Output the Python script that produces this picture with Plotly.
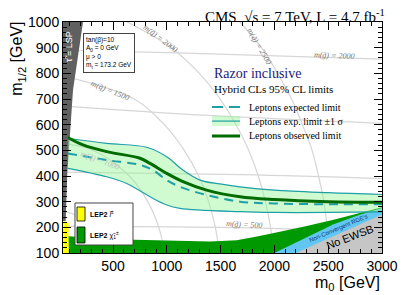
import plotly.graph_objects as go

# ---------------- data ----------------
# Observed / expected limits and +-1 sigma band (m0, m1/2) in GeV
obs_m0 = [80, 221, 441, 751, 844, 999, 1150, 1370, 1680, 2000, 2500, 3000]
obs_m12 = [550, 521, 495, 469, 449, 410, 378, 345, 319, 308, 300, 298]
exp_m0 = [80, 441, 751, 871, 999, 1122, 1370, 1680, 2000, 2500, 3000]
exp_m12 = [488, 462, 443, 423, 384, 358, 326, 300, 293, 290, 290]
up_m0 = [80, 441, 813, 999, 1150, 1308, 1494, 1680, 2000, 2500, 3000]
up_m12 = [547, 527, 512, 475, 423, 384, 369, 358, 345, 335, 328]
dn_m0 = [80, 441, 627, 844, 999, 1122, 1680, 2000, 2500, 3000]
dn_m12 = [430, 397, 371, 319, 287, 274, 261, 258, 258, 260]

# Excluded / unphysical regions (polygon vertices)
lsp_m0 = [35, 221, 128, 75, 60, 35]
lsp_m12 = [1000, 1000, 735, 410, 225, 225]
slep_m0 = [35, 35, 85, 90]
slep_m12 = [100, 222, 222, 100]
chi_m0 = [35, 35, 90, 300, 700, 1000, 1400, 1650, 1850, 2050, 2300, 2550, 2800, 3000, 3000]
chi_m12 = [100, 165, 165, 158, 152, 150, 145, 150, 165, 183, 205, 230, 256, 278, 100]
rge_m0 = [2000, 2300, 2550, 2800, 3000, 3000]
rge_m12 = [100, 160, 212, 250, 275, 100]
ewsb_m0 = [2200, 2550, 2800, 3000, 3000]
ewsb_m12 = [100, 165, 212, 250, 100]

# Iso-mass contours
sq_curves = {
    "500": ([35, 200, 326, 461], [263, 240, 200, 100]),
    "1000": ([35, 316, 651, 823, 925, 982], [526, 500, 400, 300, 200, 100]),
    "1500": ([35, 697, 977, 1162, 1296, 1388, 1451, 1488], [790, 700, 600, 500, 400, 300, 200, 100]),
    "2000": ([632, 1041, 1302, 1495, 1644, 1761, 1850, 1917, 1964, 1991], [1000, 900, 800, 700, 600, 500, 400, 300, 200, 100]),
    "2500": ([1680, 1880, 2030, 2160, 2260, 2350, 2410, 2460, 2490, 2510], [1000, 900, 800, 700, 600, 500, 400, 300, 200, 100]),
}
gl_lines = {
    "500": ([35, 1500, 3000], [205, 200, 185]),
    "1000": ([35, 1700, 3000], [415, 405, 390]),
    "1500": ([35, 1200, 3000], [672, 640, 605]),
    "2000": ([35, 1100, 3000], [890, 880, 855]),
}
# contour labels: text, m0, m1/2, angle, colour
contour_labels = [
    ("m(q̃) = 1500", 472, 735, 22, "#777777"),
    ("m(q̃) = 2000", 940, 935, 37, "#777777"),
    ("m(q̃) = 2500", 1860, 905, 60, "#777777"),
    ("m(g̃) = 2000", 2560, 870, 2, "#777777"),
    ("m(g̃) = 500", 1726, 211, 3, "#777777"),
    ("m(q̃) = 1000", 380, 462, 20, "#bbbbbb"),
]

x_ticks = [500, 1000, 1500, 2000, 2500, 3000]

TEAL = "#1f9fa6"
DKGREEN = "#006b00"
SERIF = "Liberation Serif"
SANS = "Liberation Sans"

fig = go.Figure()

# contours
for name, (xs, ys) in sq_curves.items():
    fig.add_trace(go.Scatter(x=xs, y=ys, mode="lines", line=dict(color="#d6d6d6", width=1.2, shape="spline"),
                             hoverinfo="skip", showlegend=False))
for name, (xs, ys) in gl_lines.items():
    fig.add_trace(go.Scatter(x=xs, y=ys, mode="lines", line=dict(color="#d6d6d6", width=1.2, shape="spline"),
                             hoverinfo="skip", showlegend=False))

# regions
def poly(xs, ys, color):
    fig.add_trace(go.Scatter(x=xs, y=ys, mode="lines", fill="toself", fillcolor=color,
                             line=dict(width=0, color=color), hoverinfo="skip", showlegend=False))

poly(chi_m0, chi_m12, "#009a00")
poly(rge_m0, rge_m12, "#62c6f2")
poly(ewsb_m0, ewsb_m12, "#c6c6c6")
poly(lsp_m0, lsp_m12, "#606060")
poly(slep_m0, slep_m12, "#ffff00")

# band
band_x = up_m0 + dn_m0[::-1]
band_y = up_m12 + dn_m12[::-1]
fig.add_trace(go.Scatter(x=band_x, y=band_y, mode="lines", fill="toself", fillcolor="rgba(150,245,150,0.45)",
                         line=dict(width=0), hoverinfo="skip", showlegend=False))
fig.add_trace(go.Scatter(x=up_m0, y=up_m12, mode="lines", line=dict(color=TEAL, width=1.2, shape="spline"),
                         showlegend=False))
fig.add_trace(go.Scatter(x=dn_m0, y=dn_m12, mode="lines", line=dict(color=TEAL, width=1.2, shape="spline"),
                         showlegend=False))
fig.add_trace(go.Scatter(x=exp_m0, y=exp_m12, mode="lines",
                         line=dict(color=TEAL, width=2, dash="9px,6px", shape="spline"), showlegend=False))
fig.add_trace(go.Scatter(x=obs_m0, y=obs_m12, mode="lines", line=dict(color=DKGREEN, width=3, shape="spline"),
                         showlegend=False))

ann = []
for t, x, y, a, c in contour_labels:
    ann.append(dict(x=x, y=y, xref="x", yref="y", text=f"<i>{t}</i>", showarrow=False, textangle=a,
                    font=dict(family=SERIF, size=8, color=c)))

# region labels
ann.append(dict(x=2600, y=196, xref="x", yref="y", text="Non-Convergent RGE's", showarrow=False, textangle=-23,
                font=dict(family=SANS, size=6, color="#16357a")))
ann.append(dict(x=2700, y=163, xref="x", yref="y", text="No EWSB", showarrow=False, textangle=-21,
                font=dict(family=SANS, size=11, color="black")))
ann.append(dict(x=0.019, y=0.892, xref="paper", yref="paper", xanchor="center", yanchor="middle",
                text="τ̃ = LSP", showarrow=False, textangle=-90,
                font=dict(family=SANS, size=9, color="white")))

# info box
ann.append(dict(x=0.0627, y=0.953, xref="paper", yref="paper", xanchor="left", yanchor="top", align="left",
                text="tan(β)=10<br>A<sub>0</sub> = 0 GeV<br>μ > 0<br>m<sub>t</sub> = 173.2 GeV",
                showarrow=False, bgcolor="white", bordercolor="#444444", borderwidth=1, borderpad=2,
                font=dict(family=SANS, size=6.5, color="black")))

# LEP box labels
ann.append(dict(x=0.0784, y=0.1688, xref="paper", yref="paper", xanchor="left", yanchor="middle",
                showarrow=False, text="<b>LEP2</b> <i>l̃</i><sup>±</sup>",
                font=dict(family=SANS, size=7, color="black")))
ann.append(dict(x=0.0784, y=0.0779, xref="paper", yref="paper", xanchor="left", yanchor="middle",
                showarrow=False, text="<b>LEP2</b> χ̃<sub>1</sub><sup>±</sup>",
                font=dict(family=SANS, size=7, color="black")))

# legend texts
ann.append(dict(x=0.467, y=0.779, xref="paper", yref="paper", xanchor="left", yanchor="middle", showarrow=False,
                text="Razor inclusive", font=dict(family=SERIF, size=14, color="#1b1b7a")))
ann.append(dict(x=0.467, y=0.710, xref="paper", yref="paper", xanchor="left", yanchor="middle", showarrow=False,
                text="Hybrid CLs 95% CL limits", font=dict(family=SERIF, size=11, color="black")))
for txt, yy in [("Leptons expected limit", 0.632), ("Leptons exp. limit ±1 σ", 0.571),
                ("Leptons observed limit", 0.5065)]:
    ann.append(dict(x=0.577, y=yy, xref="paper", yref="paper", xanchor="left", yanchor="middle",
                    showarrow=False, text=txt, font=dict(family=SERIF, size=10, color="black")))

# title & axis titles
ann.append(dict(x=1.016, y=1.028, xref="paper", yref="paper", xanchor="right", yanchor="middle",
                showarrow=False, text="CMS  √s = 7 TeV, L = 4.7 fb<sup>-1</sup>",
                font=dict(family=SERIF, size=15, color="black")))
ann.append(dict(x=-0.141, y=1.01, xref="paper", yref="paper", xanchor="center", yanchor="top", showarrow=False,
                textangle=-90, text="m<sub>1/2</sub> [GeV]", font=dict(family=SANS, size=16, color="black")))
ann.append(dict(x=1.0, y=-0.134, xref="paper", yref="paper", xanchor="right", yanchor="middle",
                showarrow=False, text="m<sub>0</sub> [GeV]", font=dict(family=SANS, size=16, color="black")))

shapes = [
    # LEP box
    dict(type="rect", xref="paper", yref="paper", x0=0.0376, x1=0.2194, y0=0.0346, y1=0.2165,
         fillcolor="white", line=dict(color="#444444", width=1), layer="above"),
    dict(type="rect", xref="paper", yref="paper", x0=0.0439, x1=0.069, y0=0.1385, y1=0.1991,
         fillcolor="#ffff00", line=dict(color="black", width=0.8), layer="above"),
    dict(type="rect", xref="paper", yref="paper", x0=0.0439, x1=0.069, y0=0.0433, y1=0.1126,
         fillcolor="#009a00", line=dict(color="black", width=0.8), layer="above"),
    # legend samples
    dict(type="line", xref="paper", yref="paper", x0=0.467, x1=0.502, y0=0.632, y1=0.632,
         line=dict(color=TEAL, width=2)),
    dict(type="line", xref="paper", yref="paper", x0=0.52, x1=0.555, y0=0.632, y1=0.632,
         line=dict(color=TEAL, width=2)),
    dict(type="rect", xref="paper", yref="paper", x0=0.467, x1=0.555, y0=0.550, y1=0.593,
         fillcolor="rgba(150,245,150,0.45)", line=dict(width=0)),
    dict(type="line", xref="paper", yref="paper", x0=0.467, x1=0.555, y0=0.571, y1=0.571,
         line=dict(color=TEAL, width=1.2)),
    dict(type="line", xref="paper", yref="paper", x0=0.467, x1=0.555, y0=0.5065, y1=0.5065,
         line=dict(color=DKGREEN, width=3)),
]

axis_common = dict(showgrid=False, zeroline=False, showline=True, linecolor="black", linewidth=1,
                   mirror="allticks", ticks="inside", tickcolor="black", automargin=False,
                   tickfont=dict(family=SANS, size=14, color="black"))
# the page body adds an 8px offset, so the figure is 8px smaller and left/top margins compensate
fig.update_layout(
    template="none",
    width=403, height=287,
    margin=dict(l=55, r=29, t=14, b=42),
    plot_bgcolor="white", paper_bgcolor="white",
    showlegend=False,
    xaxis=dict(range=[35, 3000], tickvals=x_ticks, ticklen=8,
               minor=dict(dtick=100, tick0=0, ticks="inside", ticklen=4, tickcolor="black"), **axis_common),
    yaxis=dict(range=[100, 1000], dtick=100, tick0=0, ticklen=8,
               minor=dict(dtick=20, tick0=0, ticks="inside", ticklen=4, tickcolor="black"), **axis_common),
    annotations=ann, shapes=shapes,
)

fig.write_html("out.html")
